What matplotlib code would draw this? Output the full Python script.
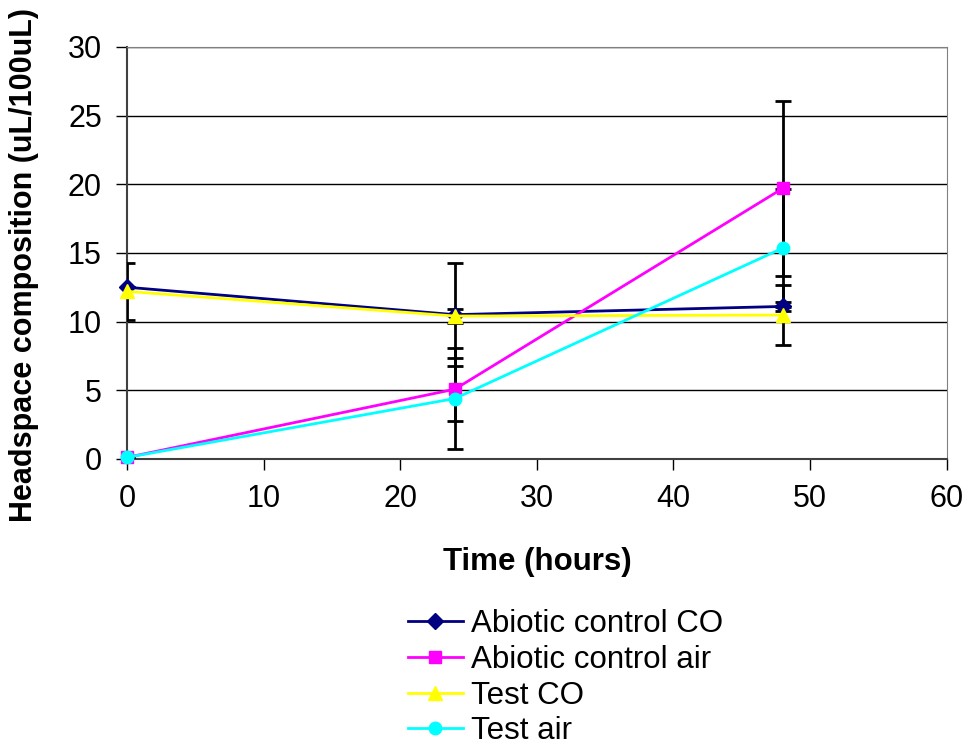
import matplotlib
matplotlib.use("Agg")
import matplotlib.pyplot as plt

plt.rcParams['font.family'] = ['Liberation Sans', 'DejaVu Sans']

hours = [0, 24, 48]

abiotic_co = [12.5, 10.5, 11.1]
abiotic_co_err = [0.0, 3.75, 0.3]
abiotic_air = [0.1, 5.07, 19.7]
abiotic_air_err = [0.0, 2.3, 6.4]
test_co = [12.2, 10.4, 10.47]
test_co_err = [2.1, 0.5, 2.2]
test_air = [0.1, 4.39, 15.35]
test_air_err = [0.0, 3.7, 4.3]

series = [
    ("Abiotic control CO", abiotic_co, abiotic_co_err, "#000080", "D", 8),
    ("Abiotic control air", abiotic_air, abiotic_air_err, "#FF00FF", "s", 9),
    ("Test CO", test_co, test_co_err, "#FFFF00", "^", 10),
    ("Test air", test_air, test_air_err, "#00FFFF", "o", 9),
]

fig = plt.figure(figsize=(9.69, 7.46), dpi=100)
ax = fig.add_axes([0.131, 0.385, 0.846, 0.552])

# error bars first, then lines and markers on top
for name, vals, err, col, mk, ms in series:
    ax.errorbar(hours, vals, yerr=err, fmt="none", ecolor="black",
                elinewidth=2, capsize=5.5, capthick=2, zorder=3)
for name, vals, err, col, mk, ms in series:
    ax.plot(hours, vals, color=col, marker=mk, markersize=ms, lw=2,
            label=name, zorder=4, clip_on=False)

ax.set_xlim(0, 60)
ax.set_ylim(0, 30)
ax.set_xticks(range(0, 61, 10))
ax.set_yticks(range(0, 31, 5))
ax.yaxis.grid(True, color="black", lw=1)
ax.set_axisbelow(True)
ax.tick_params(axis="both", labelsize=22, length=8, width=1, direction="out",
               pad=10)
for side in ["top", "right"]:
    ax.spines[side].set_color("#808080")
for side in ["left", "bottom"]:
    ax.spines[side].set_color("#404040")
    ax.spines[side].set_linewidth(1.5)

ax.set_xlabel("Time (hours)", fontsize=22.5, fontweight="bold", labelpad=24)
ax.set_ylabel("Headspace composition (uL/100uL)", fontsize=22,
              fontweight="bold")
ax.yaxis.set_label_coords(-0.107, 0.471)

fig.legend(loc="upper left", bbox_to_anchor=(0.408, 0.2), frameon=False,
           fontsize=22.5, handlelength=1.75, handletextpad=0.26,
           labelspacing=0.18, borderaxespad=0)

fig.savefig("out.png", dpi=100)
